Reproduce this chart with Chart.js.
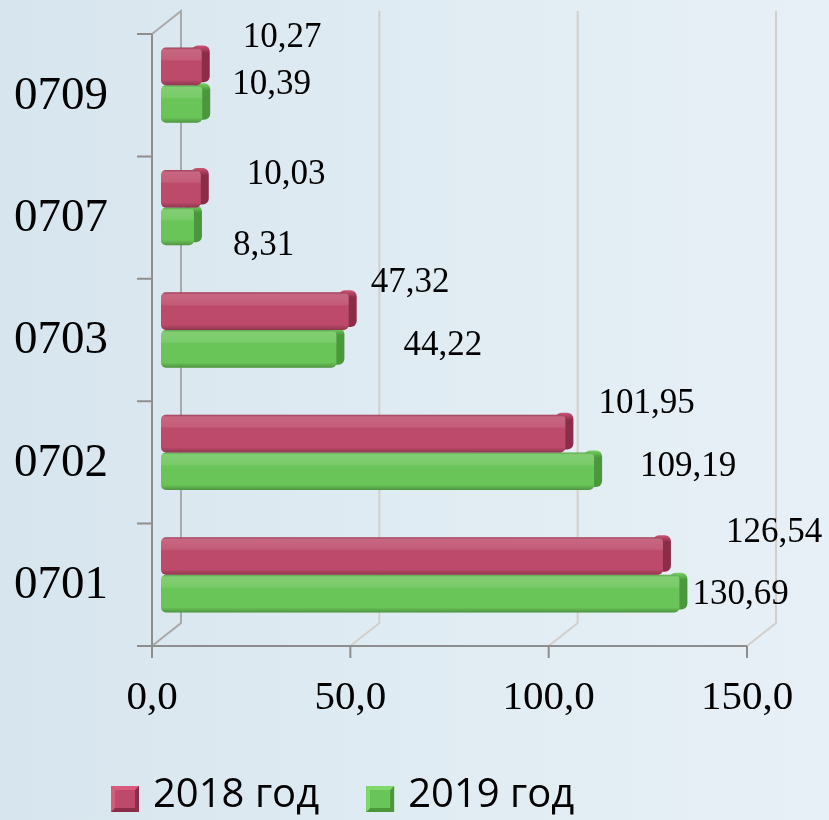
<!DOCTYPE html>
<html>
<head>
<meta charset="utf-8">
<script src="https://cdn.jsdelivr.net/npm/chart.js@4.4.1/dist/chart.umd.min.js"></script>
<style>
  html, body { margin: 0; padding: 0; }
  body {
    width: 829px; height: 820px; overflow: hidden;
    background: linear-gradient(90deg, #d7e5ee 0%, #dfebf2 45%, #e7f0f6 100%);
  }
</style>
</head>
<body>
<canvas id="c" width="829" height="820"></canvas>
<script>
const categories = ['0709', '0707', '0703', '0702', '0701'];
const values2018 = [10.27, 10.03, 47.32, 101.95, 126.54];
const values2019 = [10.39, 8.31, 44.22, 109.19, 130.69];
const seriesNames = ['2018 год', '2019 год'];
const xTicks = [0, 50, 100, 150];

// подписи в исходнике сдвинуты вручную: [dx от конца полосы, dy от центра полосы]
const nudge2018 = [[41, -29], [46, -14], [22, -28], [33, -30], [63, -23]];
const nudge2019 = [[30, -19], [39, 19], [67, -3], [46, -4], [13, 1]];

const colors = [
    { face: '#bd4a6a', side: '#8b2d48', light: '#d85a7c' },
    { face: '#6ac558', side: '#4a973c', light: '#80da6b' }
];

const SERIF = '"Liberation Serif", "Times New Roman", serif';
const DEPTH_X = 29, DEPTH_Y = -23;   // глубина 3D-стенки
const FRONT_DX = -9, FRONT_DY = 10;  // передняя плоскость осей относительно области графика

const comma = (v, d) => v.toFixed(d).replace('.', ',');

const noPad = s => { s.paddingTop = 0; s.paddingBottom = 0; s.paddingLeft = 0; s.paddingRight = 0; };

// стенки, сетка и передние оси
const frame3d = {
    id: 'frame3d',
    beforeDatasetsDraw(chart) {
        const { ctx, scales: { x, y } } = chart;
        const fTop = y.getPixelForValue(-0.5) + FRONT_DY;
        const fBot = y.getPixelForValue(categories.length - 0.5) + FRONT_DY;
        const x0 = x.getPixelForValue(0) + FRONT_DX;
        const x1 = x.getPixelForValue(xTicks[xTicks.length - 1]) + FRONT_DX;
        ctx.save();
        ctx.lineWidth = 2;
        xTicks.forEach(v => {
            const fx = x.getPixelForValue(v) + FRONT_DX;
            ctx.strokeStyle = v === 0 ? '#a9a9a9' : '#d3cfcb';
            ctx.beginPath();
            ctx.moveTo(fx, fBot);
            ctx.lineTo(fx + DEPTH_X, fBot + DEPTH_Y);
            ctx.lineTo(fx + DEPTH_X, fTop + DEPTH_Y);
            if (v === 0) ctx.lineTo(fx, fTop);
            ctx.stroke();
        });
        ctx.strokeStyle = '#8e8e8e';
        ctx.beginPath();
        ctx.moveTo(x0, fTop);
        ctx.lineTo(x0, fBot);
        ctx.lineTo(x1, fBot);
        xTicks.forEach(v => {
            const fx = x.getPixelForValue(v) + FRONT_DX;
            ctx.moveTo(fx, fBot);
            ctx.lineTo(fx, fBot + 12);
        });
        for (let i = 0; i <= categories.length; i++) {
            const fy = y.getPixelForValue(i - 0.5) + FRONT_DY;
            ctx.moveTo(x0 - 15, fy);
            ctx.lineTo(x0, fy);
        }
        ctx.stroke();
        ctx.restore();
    }
};

// боковые грани и блики полос
const bars3d = {
    id: 'bars3d',
    beforeDatasetsDraw(chart) {
        const ctx = chart.ctx;
        ctx.save();
        chart.data.datasets.forEach((ds, di) => {
            chart.getDatasetMeta(di).data.forEach(bar => {
                const { x: ex, y: ey, height: h } = bar.getProps(['x', 'y', 'height'], true);
                const top = ey - h / 2;
                const g = ctx.createLinearGradient(0, top - 3, 0, top + h);
                g.addColorStop(0, colors[di].light);
                g.addColorStop(0.2, colors[di].side);
                g.addColorStop(1, colors[di].side);
                ctx.fillStyle = g;
                ctx.beginPath();
                ctx.roundRect(ex - 10, top - 2, 18, h - 1, 6);
                ctx.fill();
            });
        });
        ctx.restore();
    },
    afterDatasetsDraw(chart) {
        const ctx = chart.ctx;
        ctx.save();
        chart.data.datasets.forEach((ds, di) => {
            chart.getDatasetMeta(di).data.forEach(bar => {
                const { x: ex, y: ey, base, height: h } = bar.getProps(['x', 'y', 'base', 'height'], true);
                const top = ey - h / 2;
                const g = ctx.createLinearGradient(0, top, 0, top + h);
                g.addColorStop(0, 'rgba(0,0,0,0.15)');
                g.addColorStop(0.06, 'rgba(255,255,255,0.16)');
                g.addColorStop(0.32, 'rgba(255,255,255,0.10)');
                g.addColorStop(0.36, 'rgba(255,255,255,0)');
                g.addColorStop(0.86, 'rgba(0,0,0,0)');
                g.addColorStop(1, 'rgba(0,0,0,0.25)');
                ctx.fillStyle = g;
                ctx.beginPath();
                ctx.roundRect(base, top, ex - base, h, 5);
                ctx.fill();
            });
        });
        ctx.restore();
    }
};

const valueLabels = {
    id: 'valueLabels',
    afterDatasetsDraw(chart) {
        const ctx = chart.ctx;
        ctx.save();
        ctx.font = '35px ' + SERIF;
        ctx.fillStyle = '#000';
        ctx.textAlign = 'left';
        ctx.textBaseline = 'middle';
        chart.data.datasets.forEach((ds, di) => {
            const nudges = di === 0 ? nudge2018 : nudge2019;
            chart.getDatasetMeta(di).data.forEach((bar, i) => {
                ctx.fillText(comma(ds.data[i], 2), bar.x + nudges[i][0], bar.y + nudges[i][1]);
            });
        });
        ctx.restore();
    }
};

const legendBoxes = {
    id: 'legendBoxes',
    afterDraw(chart) {
        const ctx = chart.ctx;
        ctx.save();
        ctx.font = '40px "Open Sans", sans-serif';
        ctx.textBaseline = 'middle';
        let lx = 111;
        const ly = 799;
        chart.data.datasets.forEach((ds, i) => {
            const c = colors[i];
            ctx.fillStyle = c.side;
            ctx.fillRect(lx, ly - 13, 28, 26);
            ctx.fillStyle = c.light;
            ctx.beginPath();
            ctx.moveTo(lx, ly - 13); ctx.lineTo(lx + 28, ly - 13);
            ctx.lineTo(lx + 24, ly - 9); ctx.lineTo(lx + 4, ly - 9);
            ctx.lineTo(lx + 4, ly + 9); ctx.lineTo(lx, ly + 13);
            ctx.closePath();
            ctx.fill();
            ctx.fillStyle = c.face;
            ctx.fillRect(lx + 4, ly - 9, 20, 18);
            ctx.fillStyle = '#000';
            ctx.fillText(ds.label, lx + 42, ly - 3);
            lx += 42 + ctx.measureText(ds.label).width + 47;
        });
        ctx.restore();
    }
};

new Chart(document.getElementById('c'), {
    type: 'bar',
    data: {
        labels: categories,
        datasets: [
            { label: seriesNames[0], data: values2018, backgroundColor: colors[0].face,
              borderRadius: 5, borderSkipped: false, categoryPercentage: 0.615, barPercentage: 1 },
            { label: seriesNames[1], data: values2019, backgroundColor: colors[1].face,
              borderRadius: 5, borderSkipped: false, categoryPercentage: 0.615, barPercentage: 1 }
        ]
    },
    options: {
        indexAxis: 'y',
        responsive: false,
        animation: false,
        devicePixelRatio: 1,
        layout: { padding: { left: 0, right: 73, top: 24, bottom: 0 } },
        plugins: { legend: { display: false }, tooltip: { enabled: false } },
        scales: {
            x: {
                min: 0, max: 150,
                afterBuildTicks: s => { s.ticks = xTicks.map(v => ({ value: v })); },
                grid: { display: false, drawTicks: false },
                border: { display: false },
                ticks: {
                    callback: v => comma(v, 1),
                    font: { family: SERIF, size: 41 },
                    color: '#000', padding: 38, labelOffset: FRONT_DX, maxRotation: 0
                },
                afterFit: s => { s.height = 184; noPad(s); }
            },
            y: {
                grid: { display: false, drawTicks: false },
                border: { display: false },
                ticks: { font: { family: SERIF, size: 47 }, color: '#000', padding: 53, labelOffset: 11 },
                afterFit: s => { s.width = 161; noPad(s); }
            }
        }
    },
    plugins: [frame3d, bars3d, valueLabels, legendBoxes]
});
</script>
</body>
</html>
